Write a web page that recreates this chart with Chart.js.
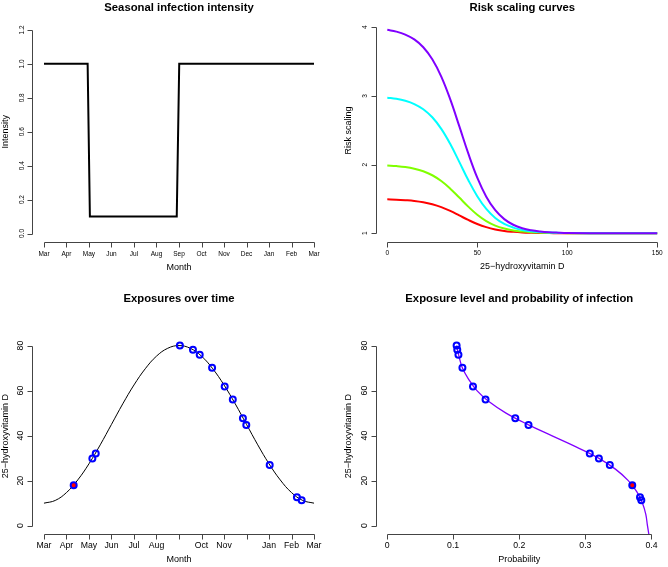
<!DOCTYPE html>
<html>
<head>
<meta charset="utf-8">
<script src="https://cdn.jsdelivr.net/npm/chart.js@4"></script>
<style>
  html, body { margin: 0; padding: 0; background: #fff; overflow: hidden; }
  body { width: 668px; height: 567px; position: relative; }
  canvas { position: absolute; }
</style>
</head>
<body>
<canvas id="c1" width="334" height="283" style="left:0;top:0;width:334px;height:283px"></canvas>
<canvas id="c2" width="334" height="283" style="left:334px;top:0;width:334px;height:283px"></canvas>
<canvas id="c3" width="334" height="284" style="left:0;top:283px;width:334px;height:284px"></canvas>
<canvas id="c4" width="334" height="284" style="left:334px;top:283px;width:334px;height:284px"></canvas>
<script>
// month tick labels (0 = Mar ... 12 = Mar)
const months = ["Mar", "Apr", "May", "Jun", "Jul", "Aug", "Sep", "Oct", "Nov", "Dec", "Jan", "Feb", "Mar"];
// bottom-left panel drops the Sep and Dec labels
const exposureMonthLabels = ["Mar", "Apr", "May", "Jun", "Jul", "Aug", "", "Oct", "Nov", "", "Jan", "Feb", "Mar"];

// seasonal infection intensity
const intensityMonth = [0, 1.94, 2.04, 5.9, 6.01, 12];
const intensityValue = [1, 1, 0.1, 0.1, 1, 1];

// risk scaling curves
const vitD = [0, 5, 10, 15, 20, 25, 30, 35, 40, 45, 50, 55, 60, 65, 70, 75, 80, 85, 90, 95, 100, 125, 150];
const riskRed = [1.494, 1.49, 1.482, 1.471, 1.452, 1.422, 1.38, 1.325, 1.26, 1.194, 1.135, 1.089, 1.056, 1.034, 1.021, 1.012, 1.007, 1.004, 1.003, 1.001, 1.001, 1, 1];
const riskGreen = [1.988, 1.979, 1.965, 1.941, 1.903, 1.845, 1.761, 1.65, 1.52, 1.388, 1.27, 1.178, 1.112, 1.069, 1.041, 1.025, 1.015, 1.009, 1.005, 1.003, 1.002, 1, 1];
const riskCyan = [2.975, 2.958, 2.929, 2.882, 2.806, 2.689, 2.521, 2.3, 2.04, 1.775, 1.54, 1.355, 1.224, 1.137, 1.083, 1.049, 1.029, 1.017, 1.01, 1.006, 1.003, 1, 1];
const riskPurple = [3.963, 3.937, 3.894, 3.823, 3.709, 3.534, 3.282, 2.949, 2.56, 2.163, 1.81, 1.533, 1.336, 1.206, 1.124, 1.074, 1.044, 1.026, 1.015, 1.009, 1.005, 1, 1];

// vitamin D level over the year
const seasonMonth = [0, 0.5, 1, 1.5, 2, 2.5, 3, 3.5, 4, 4.5, 5, 5.5, 6, 6.5, 7, 7.5, 8, 8.5, 9, 9.5, 10, 10.5, 11, 11.5, 12];
const seasonLevel = [10, 11.2, 14.7, 20.3, 27.5, 35.9, 45, 54.1, 62.5, 69.7, 75.3, 78.8, 80, 78.8, 75.3, 69.7, 62.5, 54.1, 45, 35.9, 27.5, 20.3, 14.7, 11.2, 10];

// exposures
const exposureMonth = [6.04, 6.62, 6.92, 7.47, 8.03, 8.39, 8.84, 8.99, 10.03, 11.24, 11.45, 2.15, 2.3];
const exposureLevel = [80, 78.1, 75.9, 70.1, 61.8, 56, 47.7, 44.7, 27, 12.6, 11.3, 29.8, 32.1];
const exposureProb = [0.1052, 0.1062, 0.108, 0.114, 0.13, 0.149, 0.194, 0.214, 0.337, 0.3827, 0.3847, 0.3205, 0.3067];
const infectedMonth = [1.32];
const infectedLevel = [18];
const infectedProb = [0.371];

// probability of infection by level
const curveLevel = [80, 75, 70, 65, 60, 55, 50, 45, 40, 35, 30, 25, 20, 15, 10, 5, 0, -5];
const curveProb = [0.105, 0.109, 0.114, 0.1235, 0.136, 0.1545, 0.18, 0.2125, 0.249, 0.286, 0.32, 0.346, 0.365, 0.378, 0.3865, 0.3915, 0.394, 0.3968];

const RED = "#FF0000", GREEN = "#80FF00", CYAN = "#00FFFF", PURPLE = "#8000FF", BLUE = "#0000FF";

Chart.defaults.font.family = '"Liberation Sans", Arial, Helvetica, sans-serif';
Chart.defaults.color = "#000";

const pts = (xs, ys) => xs.map((v, i) => ({ x: v, y: ys[i] }));

function lineSet(xs, ys, color, width, tension = 0.4) {
  return { data: pts(xs, ys), showLine: true, borderColor: color, borderWidth: width, pointRadius: 0, tension: tension, fill: false };
}
function pointSet(xs, ys, fillColor) {
  return { data: pts(xs, ys), showLine: false, pointRadius: 3, pointBorderWidth: 2, pointBorderColor: BLUE, pointBackgroundColor: fillColor };
}

// R style axes: a line from the first to the last tick, ticks pointing out
const rAxes = {
  id: "rAxes",
  afterDraw(chart) {
    const { ctx, chartArea: a, scales: { x, y } } = chart;
    const xs = x.ticks.map(t => Math.round(x.getPixelForValue(t.value)) + 0.5);
    const ys = y.ticks.map(t => Math.round(y.getPixelForValue(t.value)) + 0.5);
    const by = Math.round(a.bottom) + 0.5;
    const lx = Math.round(a.left) - 0.5;
    ctx.save();
    ctx.strokeStyle = "#444";
    ctx.lineWidth = 1;
    ctx.beginPath();
    ctx.moveTo(xs[0], by);
    ctx.lineTo(xs[xs.length - 1], by);
    xs.forEach(px => { ctx.moveTo(px, by); ctx.lineTo(px, by + 5); });
    ctx.moveTo(lx, ys[0]);
    ctx.lineTo(lx, ys[ys.length - 1]);
    ys.forEach(py => { ctx.moveTo(lx, py); ctx.lineTo(lx - 5, py); });
    ctx.stroke();
    ctx.restore();
  }
};

function panel(id, o) {
  return new Chart(document.getElementById(id), {
    type: "scatter",
    data: { datasets: o.datasets },
    options: {
      responsive: false,
      animation: false,
      events: [],
      layout: { padding: { left: 0, top: 0, bottom: 0, right: o.padRight } },
      plugins: {
        legend: { display: false },
        tooltip: { enabled: false },
        title: {
          display: true, text: o.title, fullSize: false, color: "#000",
          font: { size: 11.3, weight: "bold" },
          padding: { top: o.titleTop, bottom: o.titleBottom }
        }
      },
      scales: {
        x: {
          type: "linear", position: "bottom", min: o.xMin, max: o.xMax,
          grid: { display: false, drawTicks: true, tickLength: o.xTick },
          border: { display: false },
          ticks: { stepSize: o.xStep, includeBounds: false, autoSkip: false, maxRotation: 0, padding: 0,
            font: { size: o.tickSize }, callback: o.xLabel },
          title: { display: true, text: o.xTitle, font: { size: 9 }, padding: { top: 0, bottom: o.xTitlePad } },
          afterFit: s => { s.height = o.xHeight; }
        },
        y: {
          type: "linear", position: "left", min: o.yMin, max: o.yMax,
          grid: { display: false, drawTicks: true, tickLength: o.yTick },
          border: { display: false },
          ticks: { stepSize: o.yStep, includeBounds: false, autoSkip: false, minRotation: 90, maxRotation: 90,
            crossAlign: "center", padding: 0, font: { size: o.tickSize }, callback: o.yLabel },
          title: { display: true, text: o.yTitle, font: { size: 9 }, padding: { top: o.yTitlePad, bottom: 0 } },
          afterFit: s => { s.width = o.yWidth; }
        }
      }
    },
    plugins: [rAxes]
  });
}

panel("c1", {
  title: "Seasonal infection intensity", titleTop: 1, titleBottom: 6.9, padRight: 8.5,
  datasets: [lineSet(intensityMonth, intensityValue, "#000", 2, 0)],
  xMin: -0.51, xMax: 12.51, xStep: 1, xTick: 8.1, xHeight: 41, xTitle: "Month", xTitlePad: 9.6,
  xLabel: v => months[Math.round(v)],
  yMin: -0.05, yMax: 1.25, yStep: 0.2, yTick: 5.7, yWidth: 32.5, yTitle: "Intensity", yTitlePad: 0.6,
  yLabel: v => v.toFixed(1), tickSize: 6.5
});

panel("c2", {
  title: "Risk scaling curves", titleTop: 1, titleBottom: 4.4, padRight: 0,
  datasets: [
    lineSet(vitD, riskPurple, PURPLE, 2),
    lineSet(vitD, riskCyan, CYAN, 2),
    lineSet(vitD, riskGreen, GREEN, 2),
    lineSet(vitD, riskRed, RED, 2)
  ],
  xMin: -6, xMax: 156, xStep: 50, xTick: 7.1, xHeight: 41, xTitle: "25\u2212hydroxyvitamin D", xTitlePad: 10.6,
  xLabel: v => String(v),
  yMin: 0.873, yMax: 4.121, yStep: 1, yTick: 9.7, yWidth: 42.5, yTitle: "Risk scaling", yTitlePad: 9.6,
  yLabel: v => String(v), tickSize: 6.5
});

panel("c3", {
  title: "Exposures over time", titleTop: 9.2, titleBottom: 32.6, padRight: 8.5,
  datasets: [
    pointSet(infectedMonth, infectedLevel, RED),
    pointSet(exposureMonth, exposureLevel, "rgba(0,0,0,0)"),
    lineSet(seasonMonth, seasonLevel, "#000", 1)
  ],
  xMin: -0.51, xMax: 12.51, xStep: 1, xTick: 6.5, xHeight: 33, xTitle: "Month", xTitlePad: 1.9,
  xLabel: v => exposureMonthLabels[Math.round(v)],
  yMin: -3.7, yMax: 83.2, yStep: 20, yTick: 7, yWidth: 32.5, yTitle: "25\u2212hydroxyvitamin D", yTitlePad: 0.6,
  yLabel: v => String(v), tickSize: 8.7
});

panel("c4", {
  title: "Exposure level and probability of infection", titleTop: 9.2, titleBottom: 32.6, padRight: 0,
  datasets: [
    pointSet(infectedProb, infectedLevel, RED),
    pointSet(exposureProb, exposureLevel, "rgba(0,0,0,0)"),
    lineSet(curveProb, curveLevel, PURPLE, 1.3)
  ],
  xMin: -0.016, xMax: 0.416, xStep: 0.1, xTick: 6.5, xHeight: 33, xTitle: "Probability", xTitlePad: 1.9,
  xLabel: v => (Math.abs(v) < 1e-9 ? "0" : v.toFixed(1)),
  yMin: -3.7, yMax: 83.2, yStep: 20, yTick: 7, yWidth: 42.5, yTitle: "25\u2212hydroxyvitamin D", yTitlePad: 9.6,
  yLabel: v => String(v), tickSize: 8.7
});
</script>
</body>
</html>
